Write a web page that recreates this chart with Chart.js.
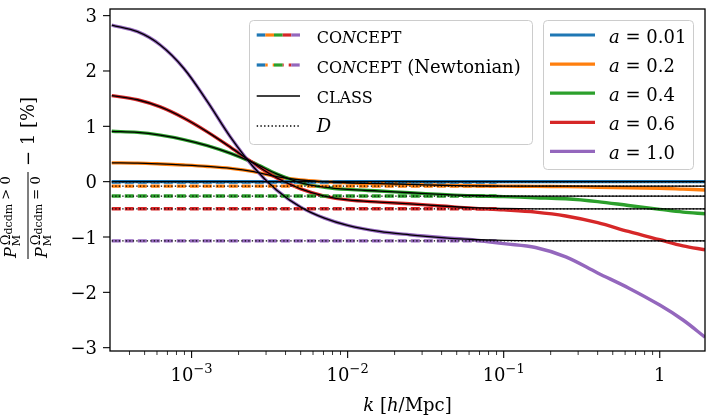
<!DOCTYPE html>
<html>
<head>
<meta charset="utf-8">
<script src="https://cdn.jsdelivr.net/npm/chart.js@4.4.1/dist/chart.umd.min.js"></script>
<style>
  html, body { margin: 0; padding: 0; background: #fff; }
  canvas { display: block; }
</style>
</head>
<body>
<canvas id="myChart" width="714" height="420"></canvas>
<script>
// k in h/Mpc
const kValues = [3.08e-4, 4.5e-4, 6.3e-4, 8.9e-4, 1.26e-3, 1.78e-3, 2.5e-3, 3.5e-3, 5.0e-3, 7.1e-3, 0.01, 0.016, 0.025, 0.04, 0.063, 0.1, 0.16, 0.25, 0.4, 0.63, 1.0, 1.41, 1.95];

const aLabels = ["0.01", "0.2", "0.4", "0.6", "1.0"];
const colors = ["#1f77b4", "#ff7f0e", "#2ca02c", "#d62728", "#9467bd"];

// CONCEPT, relative difference in %
const conceptA001 = [0, 0, 0, 0, 0, 0, 0, 0, 0, 0, 0, 0, 0, 0, 0, 0, 0, 0, 0, 0, 0, 0, 0];
const conceptA02 = [0.34, 0.335, 0.32, 0.30, 0.275, 0.24, 0.18, 0.09, 0.03, 0.00, -0.02, -0.035, -0.05, -0.065, -0.075, -0.08, -0.085, -0.09, -0.10, -0.11, -0.12, -0.135, -0.15];
const conceptA04 = [0.91, 0.89, 0.84, 0.76, 0.65, 0.51, 0.34, 0.14, -0.02, -0.10, -0.14, -0.17, -0.20, -0.23, -0.255, -0.27, -0.29, -0.31, -0.36, -0.43, -0.50, -0.55, -0.58];
const conceptA06 = [1.555, 1.48, 1.35, 1.15, 0.90, 0.62, 0.33, 0.07, -0.13, -0.26, -0.33, -0.37, -0.40, -0.44, -0.48, -0.51, -0.55, -0.62, -0.74, -0.90, -1.05, -1.16, -1.23];
const conceptA10 = [2.83, 2.71, 2.47, 2.05, 1.45, 0.80, 0.26, -0.15, -0.46, -0.66, -0.79, -0.90, -0.96, -1.01, -1.05, -1.12, -1.19, -1.36, -1.65, -1.92, -2.23, -2.50, -2.81];

// CLASS
const classA001 = [0, 0, 0, 0, 0, 0, 0, 0, 0, 0, 0, 0, 0, 0, 0, 0, 0, 0, 0, 0, 0, 0, 0];
const classA02 = [0.34, 0.335, 0.32, 0.30, 0.275, 0.24, 0.18, 0.09, 0.03, 0.00, -0.02, -0.035, -0.05, -0.065, -0.075, -0.08, -0.08, -0.08, -0.08, -0.08, -0.08, -0.08, -0.08];
const classA04 = [0.91, 0.89, 0.84, 0.76, 0.65, 0.51, 0.34, 0.14, -0.02, -0.10, -0.14, -0.17, -0.20, -0.23, -0.25, -0.26, -0.26, -0.26, -0.26, -0.26, -0.26, -0.26, -0.26];
const classA06 = [1.555, 1.48, 1.35, 1.15, 0.90, 0.62, 0.33, 0.07, -0.13, -0.26, -0.33, -0.37, -0.40, -0.44, -0.47, -0.485, -0.49, -0.49, -0.49, -0.49, -0.49, -0.49, -0.49];
const classA10 = [2.83, 2.71, 2.47, 2.05, 1.45, 0.80, 0.26, -0.15, -0.46, -0.66, -0.79, -0.90, -0.96, -1.01, -1.045, -1.06, -1.07, -1.07, -1.07, -1.07, -1.07, -1.07, -1.07];

// linear growth prediction D, and CONCEPT (Newtonian) which sits on it
const growthD = [-0.005, -0.08, -0.26, -0.49, -1.07];
const kNewtonianEnd = 0.09;

const xMajorTicks = [1e-3, 1e-2, 1e-1, 1];
const xMajorLabels = [["10", "−3"], ["10", "−2"], ["10", "−1"], ["1", ""]];
const yTicks = [-3, -2, -1, 0, 1, 2, 3];
const yTickLabels = ["−3", "−2", "−1", "0", "1", "2", "3"];

const kMin = 3.08e-4, kMax = 1.95;
const yMin = -3.06, yMax = 3.12;

const conceptAll = [conceptA001, conceptA02, conceptA04, conceptA06, conceptA10];
const classAll = [classA001, classA02, classA04, classA06, classA10];

function pts(arr) {
  return kValues.map((k, i) => ({ x: k, y: arr[i] }));
}

const datasets = [];
colors.forEach((c, i) => {
  datasets.push({
    data: pts(conceptAll[i]), borderColor: c, borderWidth: 3.4,
    tension: 0.35, order: 40 + (4 - i),
  });
  datasets.push({
    data: [{ x: kMin, y: growthD[i] }, { x: kNewtonianEnd, y: growthD[i] }],
    borderColor: c, borderWidth: 3.4, borderDash: [9, 4], order: 30 + (4 - i),
  });
  datasets.push({
    data: pts(classAll[i]), borderColor: "#000", borderWidth: 1.3,
    tension: 0.35, order: 20 + (4 - i),
  });
  datasets.push({
    data: [{ x: kMin, y: growthD[i] }, { x: kMax, y: growthD[i] }],
    borderColor: "#000", borderWidth: 1.3, borderDash: [1.3, 2.2], order: 10 + (4 - i),
  });
});

const serif = '"DejaVu Serif", serif';
function font(size, italic) {
  return (italic ? "italic " : "") + size + "px " + serif;
}
// parts: [text, size, italic, dy]
function partsWidth(ctx, parts) {
  let w = 0;
  parts.forEach(([t, size, italic]) => {
    ctx.font = font(size, italic);
    w += ctx.measureText(t).width;
  });
  return w;
}
function drawParts(ctx, parts, x, y) {
  let cx = x;
  parts.forEach(([t, size, italic, dy]) => {
    ctx.font = font(size, italic);
    ctx.fillText(t, cx, y + (dy || 0));
    cx += ctx.measureText(t).width;
  });
  return cx;
}

function hline(ctx, x0, x1, y, color, lw, dash, offset) {
  ctx.beginPath();
  ctx.strokeStyle = color;
  ctx.lineWidth = lw;
  ctx.setLineDash(dash || []);
  ctx.lineDashOffset = offset || 0;
  ctx.moveTo(x0, y);
  ctx.lineTo(x1, y);
  ctx.stroke();
  ctx.setLineDash([]);
  ctx.lineDashOffset = 0;
}

function legendBox(ctx, x0, y0, x1, y1) {
  ctx.beginPath();
  ctx.roundRect(x0, y0, x1 - x0, y1 - y0, 4);
  ctx.fillStyle = "rgba(255,255,255,0.8)";
  ctx.fill();
  ctx.strokeStyle = "#cccccc";
  ctx.lineWidth = 1;
  ctx.stroke();
}

function drawYTitle(ctx) {
  ctx.save();
  ctx.rotate(-Math.PI / 2);
  ctx.fillStyle = "#000";
  // u = -screenY, v = screenX
  const u0 = -258;
  // numerator
  ctx.font = font(16, true);
  ctx.fillText("P", u0, 16);
  let u1 = u0 + ctx.measureText("P").width + 1;
  drawParts(ctx, [["M", 11, false]], u1, 20);
  drawParts(ctx, [["Ω", 13, false], ["dcdm", 11, false, 2], [" > 0", 13, false]], u1 + 1, 10);
  // denominator
  ctx.font = font(16, true);
  ctx.fillText("P", u0, 47);
  drawParts(ctx, [["M", 11, false]], u1, 51);
  drawParts(ctx, [["Ω", 13, false], ["dcdm", 11, false, 2], [" = 0", 13, false]], u1 + 1, 40);
  // bar
  ctx.fillRect(u0 - 1, 27.5, 87, 1);
  drawParts(ctx, [["− 1 [%]", 18, false]], -166, 34);
  ctx.restore();
}

const axesPlugin = {
  id: "axesPlugin",
  afterDraw(chart) {
    const ctx = chart.ctx;
    const { left, right, top, bottom } = chart.chartArea;
    const xs = chart.scales.x, ys = chart.scales.y;
    ctx.save();
    ctx.fillStyle = "#000";
    ctx.strokeStyle = "#000";

    // frame
    ctx.lineWidth = 1.3;
    ctx.strokeRect(left, top, right - left, bottom - top);

    // y ticks
    ctx.lineWidth = 1.1;
    ctx.textBaseline = "alphabetic";
    yTicks.forEach((v, i) => {
      const py = ys.getPixelForValue(v);
      ctx.beginPath();
      ctx.moveTo(left - 7, py);
      ctx.lineTo(left, py);
      ctx.stroke();
      ctx.font = font(18, false);
      ctx.textAlign = "right";
      ctx.fillText(yTickLabels[i], left - 13, py + 6.5);
    });
    ctx.textAlign = "left";

    // x ticks, major and minor
    for (let d = -4; d <= 0; d++) {
      for (let m = 1; m <= 9; m++) {
        const k = m * Math.pow(10, d);
        if (k < kMin || k > kMax) continue;
        const px = xs.getPixelForValue(k);
        ctx.beginPath();
        ctx.lineWidth = m === 1 ? 1.1 : 0.8;
        ctx.moveTo(px, bottom);
        ctx.lineTo(px, bottom + (m === 1 ? 7 : 4));
        ctx.stroke();
      }
    }
    xMajorTicks.forEach((k, i) => {
      const px = xs.getPixelForValue(k);
      const parts = [[xMajorLabels[i][0], 18, false, 0], [xMajorLabels[i][1], 13, false, -8]];
      const w = partsWidth(ctx, parts);
      drawParts(ctx, parts, px - w / 2, 381);
    });

    // x title
    const xt = [["k", 18, true], [" [", 18, false], ["h", 18, true], ["/Mpc]", 18, false]];
    const xw = partsWidth(ctx, xt);
    drawParts(ctx, xt, (left + right) / 2 - xw / 2, 411);

    drawYTitle(ctx);

    // legend 1
    legendBox(ctx, 249.5, 20.5, 532.5, 144.5);
    const hx0 = 256.7, hx1 = 300, seg = (hx1 - hx0) / 5;
    colors.forEach((c, i) => {
      hline(ctx, hx0 + i * seg, hx0 + (i + 1) * seg, 35, c, 3.2);
      hline(ctx, hx0 + i * seg, hx0 + (i + 1) * seg, 65, c, 3.2, [11, 5], i * seg);
    });
    hline(ctx, hx0, hx1, 96, "#000", 1.4);
    hline(ctx, hx0, hx1, 126, "#000", 1.4, [1.4, 2.3]);
    ctx.fillStyle = "#000";
    const concept = [["CO", 16, false], ["N", 16, true], ["CEPT", 16, false]];
    drawParts(ctx, concept, 316.7, 42.5);
    drawParts(ctx, concept.concat([[" (Newtonian)", 18, false]]), 316.7, 73);
    drawParts(ctx, [["CLASS", 16, false]], 316.7, 102.5);
    drawParts(ctx, [["D", 18, true]], 316.7, 131.5);

    // legend 2
    legendBox(ctx, 543.5, 20.5, 693.5, 169.5);
    colors.forEach((c, i) => {
      const y = 35 + i * 29.1;
      hline(ctx, 550, 595, y, c, 3.2);
      ctx.fillStyle = "#000";
      drawParts(ctx, [["a", 18, true], [" = ", 18, false], [aLabels[i], 18, false]], 609, y + 8);
    });

    ctx.restore();
  },
};

myChart = new Chart(document.getElementById("myChart"), {
  type: "line",
  data: { datasets: datasets },
  options: {
    responsive: false,
    animation: false,
    devicePixelRatio: 1,
    layout: { padding: { left: 110, right: 9, top: 9, bottom: 69 } },
    elements: { point: { radius: 0 }, line: { fill: false } },
    plugins: { legend: { display: false }, tooltip: { enabled: false } },
    scales: {
      x: { type: "logarithmic", display: false, min: kMin, max: kMax },
      y: { type: "linear", display: false, min: yMin, max: yMax },
    },
  },
  plugins: [axesPlugin],
});
</script>
</body>
</html>
